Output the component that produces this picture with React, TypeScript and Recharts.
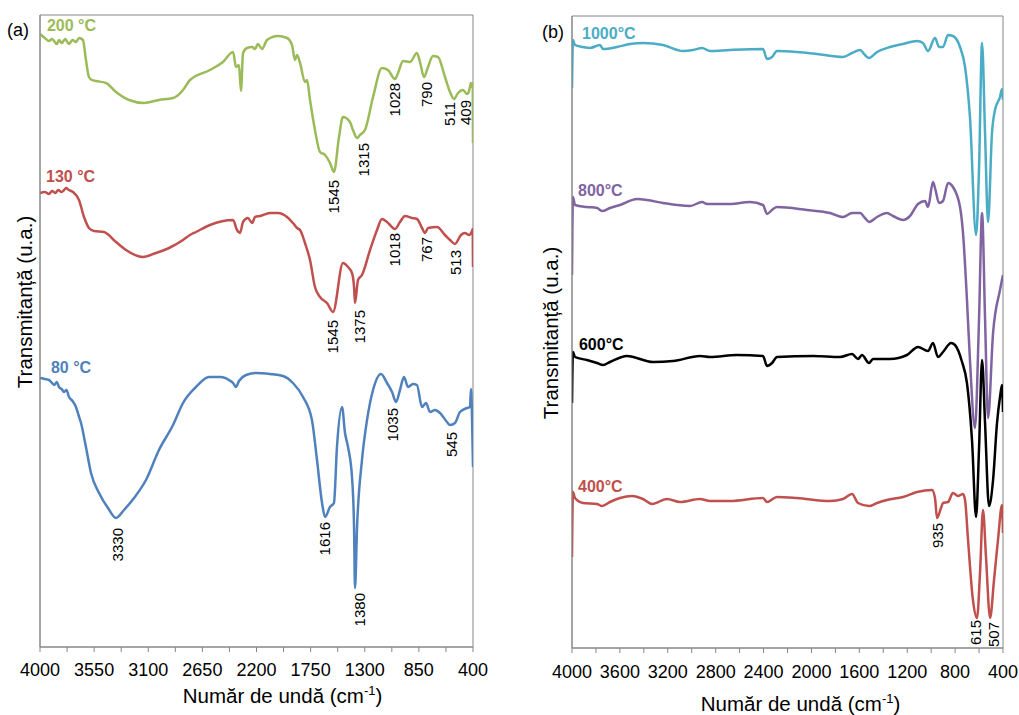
import { Label, Line, LineChart, ReferenceArea, ReferenceDot, XAxis, YAxis } from "recharts"

const FONT = "'Liberation Sans', Arial, sans-serif"
const AXIS = "#868686"

// wavenumber ticks
const ticksA = [4000, 3775, 3550, 3325, 3100, 2875, 2650, 2425, 2200, 1975, 1750, 1525, 1300, 1075, 850, 625, 400]
const labelsA = [4000, 3550, 3100, 2650, 2200, 1750, 1300, 850, 400]
const ticksB = [4000, 3800, 3600, 3400, 3200, 3000, 2800, 2600, 2400, 2200, 2000, 1800, 1600, 1400, 1200, 1000, 800, 600, 400]
const labelsB = [4000, 3600, 3200, 2800, 2400, 2000, 1600, 1200, 800, 400]

// (a) spectra: [wavenumber, transmittance a.u.]
const t200: [number, number][] = [
  [4000, 613], [3960, 609], [3925, 606], [3900, 608], [3860, 603], [3842, 607], [3820, 604], [3790, 608], [3760, 603],
  [3730, 607], [3700, 605], [3676, 609], [3643, 607], [3618, 587], [3593, 570], [3568, 567], [3534, 566], [3451, 564],
  [3368, 555], [3260, 547], [3135, 544], [3011, 547], [2894, 549], [2861, 551], [2811, 557], [2753, 567], [2587, 577],
  [2479, 585], [2395, 595], [2370, 580], [2346, 582], [2329, 556], [2312, 594], [2279, 599], [2237, 600], [2212, 598],
  [2188, 603], [2154, 598], [2113, 607], [2021, 611], [1946, 609], [1905, 602], [1880, 587], [1863, 592], [1838, 584],
  [1797, 565], [1780, 567], [1755, 547], [1714, 517], [1672, 495], [1630, 492], [1589, 484], [1556, 475], [1514, 510],
  [1481, 530], [1423, 525], [1398, 517], [1364, 509], [1340, 512], [1298, 517], [1231, 550], [1157, 579], [1107, 577],
  [1049, 568], [1023, 574], [982, 586], [924, 585], [866, 594], [841, 585], [807, 570], [774, 580], [733, 591],
  [691, 590], [633, 570], [591, 555], [558, 548], [525, 554], [483, 557], [450, 553], [433, 556], [417, 564],
  [408, 560], [402, 564], [400, 504],
]
const t130: [number, number][] = [
  [4000, 454], [3960, 455], [3925, 453], [3900, 456], [3870, 454], [3850, 457], [3820, 455], [3800, 457], [3784, 459],
  [3760, 457], [3726, 455], [3676, 447], [3634, 430], [3593, 419], [3551, 416], [3468, 415], [3368, 405], [3285, 397],
  [3144, 390], [3036, 394], [2927, 399], [2811, 407], [2753, 412], [2703, 415], [2587, 422], [2395, 427], [2362, 417],
  [2337, 414], [2312, 425], [2271, 429], [2237, 424], [2212, 430], [2170, 431], [2088, 434], [2021, 434], [1946, 430],
  [1897, 424], [1863, 419], [1838, 417], [1797, 404], [1755, 387], [1714, 360], [1672, 350], [1614, 344], [1564, 335],
  [1481, 384], [1439, 380], [1406, 374], [1389, 360], [1381, 344], [1356, 367], [1323, 372], [1256, 397], [1198, 417],
  [1157, 428], [1115, 425], [1049, 418], [1007, 425], [965, 431], [907, 429], [866, 428], [824, 419], [799, 414],
  [774, 419], [699, 420], [633, 412], [591, 407], [550, 403], [500, 412], [467, 414], [433, 412], [408, 416],
  [402, 418], [400, 380],
]
const t80: [number, number][] = [
  [4000, 269], [3960, 268], [3925, 267], [3900, 264], [3880, 262], [3860, 265], [3842, 260], [3820, 258], [3800, 255],
  [3780, 257], [3759, 250], [3730, 246], [3701, 240], [3680, 232], [3659, 224], [3618, 200], [3576, 174], [3509, 154],
  [3435, 139], [3368, 129], [3302, 137], [3218, 149], [3119, 167], [3011, 197], [2894, 222], [2811, 244], [2703, 260],
  [2595, 270], [2495, 270], [2429, 267], [2395, 264], [2370, 260], [2346, 266], [2287, 272], [2204, 274], [2088, 273],
  [1980, 271], [1897, 264], [1813, 250], [1739, 227], [1697, 187], [1655, 144], [1630, 130], [1589, 140], [1556, 144],
  [1531, 200], [1489, 240], [1464, 214], [1439, 200], [1406, 170], [1389, 120], [1381, 59], [1364, 120], [1323, 187],
  [1281, 227], [1231, 257], [1165, 273], [1115, 264], [1073, 255], [1040, 245], [1007, 257], [974, 270], [940, 260],
  [899, 263], [866, 262], [824, 240], [791, 244], [757, 235], [716, 237], [674, 234], [616, 225], [591, 222],
  [550, 224], [508, 235], [450, 239], [425, 240], [417, 258], [410, 240], [400, 180],
]

// (b) spectra
const t1000: [number, number][] = [
  [4000, 560], [3992, 608], [3975, 603], [3908, 601], [3850, 600], [3766, 603], [3741, 599], [3624, 601], [3516, 604],
  [3407, 605], [3240, 603], [3073, 597], [2989, 598], [2914, 600], [2847, 597], [2680, 598], [2405, 599], [2371, 589],
  [2329, 591], [2288, 597], [2121, 596], [1954, 594], [1736, 591], [1661, 595], [1594, 598], [1553, 593], [1519, 590],
  [1452, 596], [1344, 601], [1235, 604], [1118, 607], [1068, 605], [1026, 597], [968, 610], [934, 601], [901, 601],
  [859, 613], [818, 612], [759, 601], [717, 581], [676, 531], [625, 413], [600, 480], [575, 605], [550, 515],
  [525, 426], [492, 515], [467, 538], [425, 551], [408, 559], [400, 548],
]
const t800: [number, number][] = [
  [4000, 373], [3992, 451], [3975, 443], [3875, 441], [3791, 440], [3749, 437], [3683, 440], [3599, 443], [3457, 449],
  [3374, 448], [3240, 445], [3014, 442], [2914, 446], [2872, 444], [2680, 444], [2513, 446], [2405, 443], [2371, 434],
  [2321, 439], [2288, 441], [2037, 438], [1845, 435], [1736, 431], [1661, 435], [1594, 435], [1553, 430], [1519, 426],
  [1452, 431], [1369, 435], [1319, 432], [1235, 428], [1177, 432], [1110, 444], [1051, 447], [1026, 441], [985, 466],
  [968, 460], [934, 445], [901, 447], [859, 465], [818, 461], [759, 441], [734, 415], [701, 348], [676, 288],
  [634, 220], [600, 330], [575, 435], [550, 330], [525, 230], [483, 315], [425, 358], [400, 373],
]
const t600: [number, number][] = [
  [4000, 245], [3992, 296], [3975, 291], [3875, 288], [3791, 285], [3741, 283], [3683, 286], [3541, 292], [3323, 286],
  [3156, 287], [2931, 292], [2847, 291], [2622, 293], [2405, 292], [2371, 282], [2329, 285], [2288, 291], [1987, 292],
  [1761, 291], [1661, 294], [1611, 289], [1578, 293], [1519, 285], [1486, 289], [1344, 289], [1202, 293], [1110, 301],
  [1026, 297], [985, 305], [943, 291], [901, 296], [834, 305], [801, 303], [742, 286], [701, 265], [659, 208],
  [625, 131], [600, 200], [575, 288], [550, 225], [517, 142], [483, 168], [450, 225], [425, 251], [408, 263],
  [400, 236],
]
const t400: [number, number][] = [
  [4000, 91], [3992, 156], [3975, 150], [3908, 145], [3791, 144], [3749, 142], [3683, 146], [3599, 150], [3499, 152],
  [3407, 149], [3332, 144], [3206, 149], [3098, 146], [2931, 149], [2847, 147], [2680, 147], [2405, 150], [2371, 146],
  [2288, 151], [2121, 150], [1845, 147], [1736, 149], [1661, 154], [1611, 145], [1519, 142], [1452, 145], [1369, 148],
  [1235, 151], [1118, 156], [993, 158], [968, 150], [951, 130], [918, 140], [901, 145], [859, 146], [818, 155],
  [776, 152], [734, 154], [717, 148], [692, 108], [651, 48], [617, 30], [592, 75], [567, 138], [542, 91],
  [508, 30], [475, 68], [442, 108], [408, 143], [400, 115],
]

// peak annotations: [wavenumber, top of label, text]
const peaksA: [number, number, string][] = [
  [1556, 467, "1545"], [1306, 504, "1315"], [1049, 564, "1028"], [782, 565, "790"], [591, 545, "511"], [458, 547, "409"],
  [1564, 327, "1545"], [1340, 337, "1375"], [1049, 414, "1018"], [782, 410, "767"], [541, 397, "513"],
  [3352, 119, "3330"], [1630, 125, "1616"], [1340, 54, "1380"], [1065, 239, "1035"], [575, 215, "545"],
]
const peaksB: [number, number, string][] = [
  [943, 125, "935"], [625, 28, "615"], [475, 26, "507"],
]

// series names: [wavenumber, baseline, text, colour]
const namesA: [number, number, string, string][] = [
  [3942, 616, "200 °C", "#9BBB59"], [3950, 465, "130 °C", "#C0504D"], [3909, 274, "80 °C", "#4F81BD"],
]
const namesB: [number, number, string, string][] = [
  [3916, 609, "1000°C", "#4BACC6"], [3950, 452, "800°C", "#8064A2"], [3942, 298, "600°C", "#000000"], [3950, 156, "400°C", "#C0504D"],
]

const toRows = (pts: [number, number][]) => pts.map(([w, t]) => ({ w, t }))

const seriesA = [
  { name: "200 °C", color: "#9BBB59", pts: t200 },
  { name: "130 °C", color: "#C0504D", pts: t130 },
  { name: "80 °C", color: "#4F81BD", pts: t80 },
]
const seriesB = [
  { name: "1000°C", color: "#4BACC6", pts: t1000 },
  { name: "800°C", color: "#8064A2", pts: t800 },
  { name: "600°C", color: "#000000", pts: t600 },
  { name: "400°C", color: "#C0504D", pts: t400 },
]

const makeTick = (labels: number[], dy: number) => (props: any) => {
  const { x, y, payload } = props
  if (!labels.includes(payload.value)) return <g />
  return (
    <text x={x} y={y + dy} textAnchor="middle" fontSize={18} fontFamily={FONT} fill="#000">
      {payload.value}
    </text>
  )
}

const makeXTitle = (shift: number, dy: number) => (props: any) => {
  const vb = props.viewBox
  return (
    <text x={vb.x + vb.width / 2 + shift} y={vb.y + dy} textAnchor="middle" fontSize={20.5} fontFamily={FONT} fill="#000">
      <tspan>Număr de undă (cm</tspan>
      <tspan dy={-8} fontSize={13}>-1</tspan>
      <tspan dy={8}>)</tspan>
    </text>
  )
}

const makeYTitle = (cx: number, cy: number, tag: string, tx: number, ty: number) => () => (
  <g>
    <text
      x={cx}
      y={cy}
      transform={`rotate(-90 ${cx} ${cy})`}
      textAnchor="middle"
      dominantBaseline="central"
      fontSize={20.5}
      fontFamily={FONT}
      fill="#000"
    >
      Transmitanță (u.a.)
    </text>
    <text x={tx} y={ty} fontSize={18} fontFamily={FONT} fill="#000">
      {tag}
    </text>
  </g>
)

const peakShape = (text: string) => (p: any) => (
  <text
    x={p.cx}
    y={p.cy}
    transform={`rotate(-90 ${p.cx} ${p.cy})`}
    textAnchor="end"
    dy="0.35em"
    fontSize={15}
    fontFamily={FONT}
    fill="#000"
  >
    {text}
  </text>
)

const nameShape = (text: string, color: string) => (p: any) => (
  <text x={p.cx} y={p.cy} fontSize={16} fontWeight="bold" fontFamily={FONT} fill={color}>
    {text}
  </text>
)

export default function App() {
  return (
    <div style={{ position: "absolute", left: 0, top: 0, width: 1019, height: 715, background: "#fff", overflow: "hidden" }}>
      <div style={{ position: "absolute", left: 0, top: 0 }}>
        <LineChart width={500} height={715} margin={{ top: 15, right: 27, bottom: 8, left: 0 }}>
          <XAxis
            type="number"
            dataKey="w"
            domain={[400, 4000]}
            reversed
            ticks={ticksA}
            interval={0}
            allowDataOverflow
            height={60}
            tickSize={5}
            stroke={AXIS}
            tick={makeTick(labelsA, 22)}
          >
            <Label content={makeXTitle(26, 56)} />
          </XAxis>
          <YAxis type="number" domain={[0, 632]} width={40} tick={false} tickLine={false} stroke={AXIS} allowDataOverflow>
            <Label content={makeYTitle(24, 302, "(a)", 7, 36)} />
          </YAxis>
          <ReferenceArea x1={4000} x2={400} y1={0} y2={632} fill="none" stroke={AXIS} ifOverflow="visible" />
          {seriesA.map((s) => (
            <Line
              key={s.name}
              data={toRows(s.pts)}
              dataKey="t"
              name={s.name}
              stroke={s.color}
              strokeWidth={2.5}
              dot={false}
              activeDot={false}
              type="monotone"
              isAnimationActive={false}
            />
          ))}
          {peaksA.map(([w, t, text], i) => (
            <ReferenceDot key={"pa" + i} x={w} y={t} r={0} ifOverflow="visible" shape={peakShape(text)} />
          ))}
          {namesA.map(([w, t, text, color]) => (
            <ReferenceDot key={text} x={w} y={t} r={0} ifOverflow="visible" shape={nameShape(text, color)} />
          ))}
        </LineChart>
      </div>
      <div style={{ position: "absolute", left: 520, top: 0 }}>
        <LineChart width={499} height={715} margin={{ top: 16, right: 16, bottom: 7, left: 0 }}>
          <XAxis
            type="number"
            dataKey="w"
            domain={[400, 4000]}
            reversed
            ticks={ticksB}
            interval={0}
            allowDataOverflow
            height={60}
            tickSize={5}
            stroke={AXIS}
            tick={makeTick(labelsB, 23)}
          >
            <Label content={makeXTitle(13, 63)} />
          </XAxis>
          <YAxis type="number" domain={[0, 632]} width={52} tick={false} tickLine={false} stroke={AXIS} allowDataOverflow>
            <Label content={makeYTitle(30, 333, "(b)", 22, 38)} />
          </YAxis>
          <ReferenceArea x1={4000} x2={400} y1={0} y2={632} fill="none" stroke={AXIS} ifOverflow="visible" />
          {seriesB.map((s) => (
            <Line
              key={s.name}
              data={toRows(s.pts)}
              dataKey="t"
              name={s.name}
              stroke={s.color}
              strokeWidth={2.5}
              dot={false}
              activeDot={false}
              type="monotone"
              isAnimationActive={false}
            />
          ))}
          {peaksB.map(([w, t, text], i) => (
            <ReferenceDot key={"pb" + i} x={w} y={t} r={0} ifOverflow="visible" shape={peakShape(text)} />
          ))}
          {namesB.map(([w, t, text, color]) => (
            <ReferenceDot key={text} x={w} y={t} r={0} ifOverflow="visible" shape={nameShape(text, color)} />
          ))}
        </LineChart>
      </div>
    </div>
  )
}
